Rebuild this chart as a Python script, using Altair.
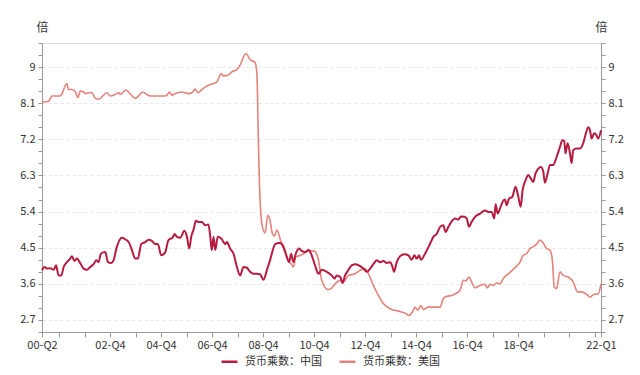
import altair as alt
import pandas as pd

# Month offsets from 2000-04 (00-Q2) and money multiplier values
cn_month = [0, 1.2, 2.3, 3.9, 5.5, 6.6, 7.8, 9.1, 10.2, 11.7, 13.3, 14.1, 15.3, 16.4, 17.7, 19.6, 21.1, 22.7,
            24.3, 25.5, 26.6, 27.7, 29.8, 31.0, 32.6, 33.7, 35.2, 37.6, 39.5, 41.0, 42.3, 43.9, 45.1, 46.7,
            48.6, 50.1, 51.7, 53.3, 54.5, 56.1, 58.0, 59.5, 61.4, 62.4, 63.5, 65.0, 67.0, 68.2, 69.3, 70.2,
            71.3, 72.4, 73.6, 75.2, 76.8, 78.3, 79.1, 79.9, 80.7, 81.5, 82.7, 84.3, 85.4, 86.2, 87.0, 88.5,
            90.1, 91.7, 93.2, 94.8, 96.4, 97.9, 99.5, 101.1, 102.6, 104.2, 105.8, 107.3, 109.7, 111.6, 112.8,
            114.1, 115.2, 116.3, 117.2, 118.3, 119.4, 121.0, 122.2, 123.8, 125.4, 126.9, 128.5, 130.1, 131.6,
            134.0, 136.3, 137.6, 138.7, 140.3, 141.4, 142.6, 144.2, 145.7, 147.6, 149.7, 151.2, 152.8, 154.4,
            155.9, 157.5, 159.1, 160.6, 162.2, 163.8, 164.9, 165.6, 166.9, 168.5, 170.5, 172.4, 173.9, 175.2,
            176.3, 177.4, 178.3, 180.2, 182.6, 184.1, 185.7, 187.3, 188.8, 189.9, 191.2, 193.1, 194.3, 195.9,
            197.1, 198.7, 199.8, 200.9, 202.1, 203.7, 206.1, 208.4, 210.0, 211.5, 212.8, 213.4, 214.4, 215.5,
            217.0, 217.8, 218.6, 219.7, 221.3, 222.8, 224.1, 225.2, 226.1, 227.5, 228.8, 230.0, 231.1, 232.2,
            233.5, 234.7, 235.8, 236.6, 237.9, 239.0, 240.5, 242.1, 243.7, 244.8, 245.7, 246.3, 247.3, 248.4,
            249.2, 249.9, 251.5, 253.1, 254.6, 255.9, 257.0, 257.8, 258.6, 259.8, 260.9, 261.7, 263.0]
cn_value = [3.94, 4.02, 3.98, 3.99, 3.95, 4.06, 3.81, 3.81, 4.02, 4.14, 4.23, 4.29, 4.17, 4.23, 4.14, 3.98, 3.95, 4.02,
            4.09, 4.19, 4.14, 4.35, 4.39, 4.14, 4.12, 4.19, 4.52, 4.75, 4.70, 4.62, 4.44, 4.23, 4.23, 4.59,
            4.64, 4.70, 4.67, 4.59, 4.59, 4.31, 4.39, 4.69, 4.75, 4.84, 4.77, 4.75, 4.92, 4.77, 4.48, 4.77,
            4.95, 5.17, 5.14, 5.14, 5.06, 5.08, 4.81, 4.44, 4.77, 4.44, 4.77, 4.73, 4.64, 4.59, 4.64, 4.48,
            4.35, 4.02, 3.81, 4.02, 4.00, 3.90, 3.85, 3.85, 3.84, 3.70, 3.94, 4.19, 4.59, 4.62, 4.59,
            4.44, 4.27, 4.14, 4.35, 4.14, 4.35, 4.48, 4.42, 4.39, 4.44, 4.31, 4.05, 3.85, 3.95,
            3.90, 3.81, 3.73, 3.81, 3.77, 3.62, 3.81, 3.95, 4.06, 4.09, 4.04, 3.98, 3.90, 3.98,
            4.09, 4.19, 4.14, 4.17, 4.12, 4.14, 4.02, 3.90, 4.14, 4.29, 4.34, 4.31, 4.20, 4.31,
            4.23, 4.31, 4.20, 4.35, 4.60, 4.77, 4.84, 5.02, 5.06, 4.89, 5.02, 5.18, 5.23, 5.20,
            5.28, 5.27, 5.23, 5.02, 5.14, 5.27, 5.35, 5.43, 5.39, 5.39, 5.23, 5.58, 5.35, 5.48,
            5.67, 5.70, 5.56, 5.72, 5.77, 6.02, 5.77, 5.52, 5.93, 6.18, 6.31, 6.22, 6.14, 6.35,
            6.47, 6.51, 6.41, 6.12, 6.35, 6.56, 6.56, 6.76, 7.01, 7.18, 7.16, 6.85, 7.10, 6.85,
            6.61, 6.93, 6.97, 6.97, 7.10, 7.35, 7.50, 7.43, 7.22, 7.35, 7.30, 7.22, 7.43]

us_month = [0, 3.1, 4.7, 8.6, 9.4, 11.7, 12.5, 14.1, 15.7, 16.9, 18.0, 19.6, 20.4, 22.0, 23.5, 25.1, 26.6, 28.2,
            30.5, 32.1, 34.5, 36.0, 36.8, 39.5, 41.5, 43.9, 45.4, 47.3, 49.3, 50.9, 53.3, 58.0, 58.8, 60.0,
            61.1, 62.7, 65.8, 69.0, 70.5, 72.1, 73.3, 75.2, 77.6, 79.9, 82.3, 84.3, 85.4, 87.7, 89.3, 91.7,
            93.2, 95.9, 97.9, 100.3, 101.1, 101.8, 102.6, 103.7, 105.0, 106.2, 107.3, 108.4, 109.4, 110.5,
            112.5, 114.1, 115.6, 117.2, 118.3, 119.4, 121.0, 123.0, 125.4, 127.5, 128.5, 130.1, 131.6, 134.5,
            136.0, 137.9, 140.3, 141.8, 144.2, 147.3, 149.7, 152.0, 153.6, 155.9, 158.3, 160.6, 163.8, 167.7,
            170.8, 172.7, 174.3, 175.5, 176.8, 178.3, 179.4, 181.8, 184.1, 187.3, 188.8, 190.4, 192.8, 194.3,
            196.7, 198.2, 199.3, 200.9, 202.1, 203.7, 206.1, 208.4, 209.5, 210.8, 212.3, 213.9, 215.5, 217.0,
            219.4, 222.5, 224.9, 226.4, 228.0, 229.6, 231.1, 232.7, 234.3, 235.8, 237.4, 239.0, 240.1, 241.0,
            242.1, 243.7, 245.2, 247.6, 249.9, 252.0, 253.9, 256.2, 257.8, 259.8, 261.7, 263.0]
us_value = [8.13, 8.15, 8.28, 8.28, 8.34, 8.59, 8.44, 8.44, 8.38, 8.24, 8.40, 8.38, 8.34, 8.36, 8.36, 8.22, 8.20, 8.26,
            8.36, 8.28, 8.32, 8.36, 8.32, 8.43, 8.33, 8.22, 8.28, 8.38, 8.32, 8.28, 8.28, 8.28, 8.30, 8.38,
            8.30, 8.34, 8.38, 8.34, 8.36, 8.45, 8.36, 8.44, 8.53, 8.58, 8.63, 8.84, 8.78, 8.80, 8.88, 8.94,
            9.05, 9.34, 9.19, 9.11, 8.84, 7.18, 5.68, 5.02, 4.87, 5.31, 5.18, 4.85, 4.79, 4.94,
            4.64, 4.48, 4.19, 4.10, 4.02, 4.27, 4.30, 4.35, 4.42, 4.42, 4.40, 4.19, 3.69, 3.46,
            3.48, 3.60, 3.69, 3.65, 3.81, 3.85, 3.94, 3.98, 3.85, 3.56, 3.31, 3.11, 2.98, 2.92,
            2.87, 2.81, 2.90, 3.02, 2.94, 3.06, 2.96, 3.02, 3.02, 3.02, 3.23, 3.29, 3.31, 3.35,
            3.44, 3.69, 3.67, 3.77, 3.65, 3.50, 3.56, 3.59, 3.50, 3.59, 3.56, 3.62, 3.60, 3.73,
            3.85, 4.00, 4.14, 4.31, 4.35, 4.48, 4.52, 4.59, 4.69, 4.62, 4.48, 4.44, 4.19, 3.52,
            3.48, 3.90, 3.81, 3.77, 3.65, 3.40, 3.40, 3.34, 3.27, 3.34, 3.35, 3.60]

series_names = ["货币乘数：中国", "货币乘数：美国"]
series_colors = ["#B71C40", "#E5827B"]

x_tick_months = [0, 8, 20, 32, 44, 56, 68, 80, 92, 104, 116, 128, 140, 152, 164, 176, 188, 200, 212, 224, 236, 248, 260, 263]
x_tick_labels = ["00-Q2", "", "", "02-Q4", "", "04-Q4", "", "06-Q4", "", "08-Q4", "", "10-Q4", "", "12-Q4", "",
                 "14-Q4", "", "16-Q4", "", "18-Q4", "", "", "", "22-Q1"]
y_ticks = [2.4, 2.7, 3.0, 3.3, 3.6, 3.9, 4.2, 4.5, 4.8, 5.1, 5.4, 5.7, 6.0, 6.3, 6.6, 6.9, 7.2, 7.5, 7.8, 8.1,
           8.4, 8.7, 9.0, 9.3, 9.6]
y_labels = [2.7, 3.6, 4.5, 5.4, 6.3, 7.2, 8.1, 9.0]

df = pd.concat([
    pd.DataFrame({"m": cn_month, "v": cn_value, "series": series_names[0]}),
    pd.DataFrame({"m": us_month, "v": us_value, "series": series_names[1]}),
])

FONT = "Noto Sans CJK SC"

x_expr = ""
for mm, lab in zip(x_tick_months, x_tick_labels):
    x_expr += f"datum.value == {mm} ? '{lab}' : "
x_expr += "''"

is_label = " || ".join(f"abs(datum.value - {v}) < 0.01" for v in y_labels)
y_label_expr = f"({is_label}) ? format(datum.value, '.1~f') : ''"

x_enc = alt.X("m:Q", scale=alt.Scale(domain=[0, 263], nice=False, zero=False),
              axis=alt.Axis(values=x_tick_months, labelExpr=x_expr, title=None, grid=False,
                            tickSize=5, labelPadding=2, domainColor="#9a9a9a", tickColor="#9a9a9a",
                            labelFontSize=11, labelColor="#333333", labelFont=FONT,
                            labelOverlap=False, labelFlush=False))

y_scale = alt.Scale(domain=[2.4, 9.6], nice=False, zero=False)

def y_axis(orient, grid):
    return alt.Axis(orient=orient, values=y_ticks, labelExpr=y_label_expr, title="倍",
                    titleAngle=0, titleX=0, titleY=-16, titleAlign="center", titleBaseline="middle",
                    titleFontWeight="normal", titleFontSize=12, titleFont=FONT, titleColor="#333333",
                    tickSize=4, labelPadding=3, domainColor="#9a9a9a", tickColor="#9a9a9a",
                    labelFontSize=11, labelColor="#333333", labelFont=FONT,
                    grid=grid, gridDash=[3, 3], gridColor="#e6e6e6",
                    gridOpacity={"condition": {"test": is_label, "value": 1}, "value": 0})

color = alt.Color("series:N", scale=alt.Scale(domain=series_names, range=series_colors),
                  legend=alt.Legend(title=None, orient="none", direction="horizontal",
                                    legendX=178, legendY=309, symbolType="stroke", symbolSize=256,
                                    symbolStrokeWidth=2.5, labelFont=FONT, labelFontSize=11,
                                    labelColor="#333333", columnPadding=12, labelOffset=6))

us_layer = alt.Chart(df).transform_filter(alt.datum.series == series_names[1]).mark_line(
    strokeWidth=1.6, interpolate="monotone").encode(
    x=x_enc, y=alt.Y("v:Q", scale=y_scale, axis=y_axis("right", False)), color=color, order="m:Q")

cn_layer = alt.Chart(df).transform_filter(alt.datum.series == series_names[0]).mark_line(
    strokeWidth=2, interpolate="monotone").encode(
    x=x_enc, y=alt.Y("v:Q", scale=y_scale, axis=y_axis("left", True)), color=color, order="m:Q")

chart = alt.layer(us_layer, cn_layer).resolve_scale(y="shared").resolve_axis(y="independent").properties(
    width=559, height=289,
    autosize=alt.AutoSizeParams(type="none"),
    padding={"left": 34, "top": 35, "right": 31, "bottom": 35},
).configure_view(stroke=None).configure(font=FONT)

chart.save("out.html", embed_options={"renderer": "svg", "actions": False})
